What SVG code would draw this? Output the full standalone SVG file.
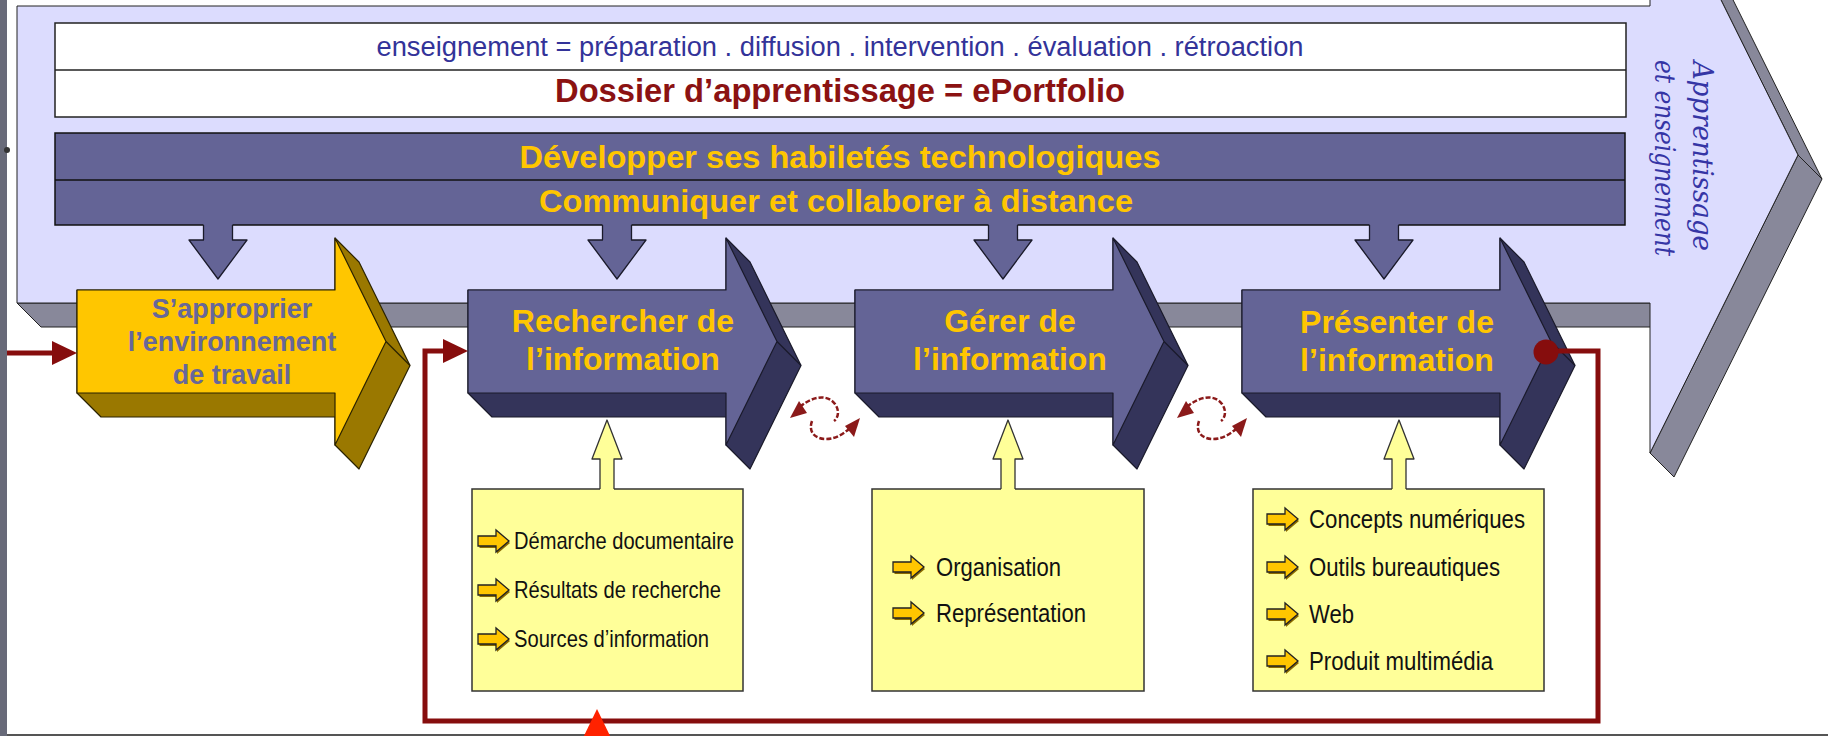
<svg xmlns="http://www.w3.org/2000/svg" xmlns:xlink="http://www.w3.org/1999/xlink" width="1828" height="736" viewBox="0 0 1828 736">
<style>
.lav{fill:#dcdcfe;stroke:#222;stroke-width:1}
.lav3d{fill:#88889a;stroke:#222;stroke-width:1}
.wbox{fill:#fff;stroke:#222;stroke-width:1.5}
.pbar{fill:#646496;stroke:#111;stroke-width:1.5}
.pface{fill:#646496;stroke:#1a1a2a;stroke-width:1.2;stroke-linejoin:round}
.pside{fill:#34345a;stroke:#1a1a2a;stroke-width:1.2;stroke-linejoin:round}
.yface{fill:#ffc600;stroke:#2a2200;stroke-width:1.2;stroke-linejoin:round}
.yside{fill:#9a7800;stroke:#2a2200;stroke-width:1.2;stroke-linejoin:round}
.ibox{fill:#ffff99;stroke:#333;stroke-width:1.5}
.sans{font-family:"Liberation Sans",Arial,sans-serif}
.lbl{font-family:"Liberation Sans",Arial,sans-serif;font-weight:bold;font-size:32px;fill:#ffc600;text-anchor:middle}
.lblg{font-family:"Liberation Sans",Arial,sans-serif;font-weight:bold;font-size:27px;fill:#676799;text-anchor:middle}
.item{font-family:"Liberation Sans Narrow","Liberation Sans",Arial,sans-serif;fill:#111}
.redline{fill:none;stroke:#860d0d;stroke-width:5;stroke-linejoin:miter}
.script{font-family:"DejaVu Serif","Liberation Serif",serif;font-style:italic;font-size:27px;fill:#3535a5;text-anchor:middle}
</style>
<defs>
<marker id="redHead" markerUnits="userSpaceOnUse" markerWidth="26" markerHeight="26" refX="12" refY="12" orient="auto">
<path d="M0,0 L25,12 L0,24 Z" fill="#860d0d"/>
</marker>
<g id="downArrow">
<path d="M-14.5,222 V240 H-29 L0,279 L29,240 H14.5 V222 Z" fill="#646496"/>
<path d="M-14.5,225 V240 H-29 L0,279 L29,240 H14.5 V225" fill="none" stroke="#1a1a2a" stroke-width="1.3" stroke-linejoin="round"/>
</g>
<g id="upArrow">
<path d="M-7,491 V459 H-15 L0,420 L15,459 H7 V491 Z" fill="#ffff99"/>
<path d="M-7,489 V459 H-15 L0,420 L15,459 H7 V489" fill="none" stroke="#333" stroke-width="1.3" stroke-linejoin="round"/>
</g>
<g id="bullet">
<path d="M1.5,-3 H19 V-9 L32,2 L19,13 V7 H1.5 Z" fill="#8a6a00"/>
<path d="M0,-5 H18 V-11 L31,0 L18,11 V5 H0 Z" fill="#ffc600" stroke="#222" stroke-width="1.3" stroke-linejoin="miter"/>
</g>
<g id="swap">
<path d="M800,407 C812,396 828,394 835,404 C840,411 838,418 834,421" fill="none" stroke="#8b1a1a" stroke-width="2.5" stroke-dasharray="5 2"/>
<path d="M812,421 C808,432 815,439 826,439 C836,439 843,434 849,429" fill="none" stroke="#8b1a1a" stroke-width="2.5" stroke-dasharray="5 2"/>
<polygon points="790,418 799,401 807,413" fill="#8b1a1a"/>
<polygon points="860,418 845,426 854,437" fill="#8b1a1a"/>
</g>
</defs>

<rect x="0" y="0" width="1828" height="736" fill="#ffffff"/>
<rect x="0" y="0" width="7" height="736" fill="#686a79"/>
<circle cx="7" cy="150" r="3" fill="#333"/>
<line x1="7" y1="735" x2="1828" y2="735" stroke="#555" stroke-width="2"/>

<g id="frame-arrow">
<polygon class="lav3d" points="17,303 1650,303 1674,327 41,327"/>
<polygon class="lav3d" points="1798,155 1822,179 1674,477 1650,453"/>
<polygon class="lav3d" points="1650,-143 1674,-119 1822,179 1798,155"/>
<polygon class="lav" points="17,6 1650,6 1650,-143 1798,155 1650,453 1650,303 17,303"/>
</g>

<g id="label-apprentissage">
<text class="script" transform="translate(1693,156) rotate(90)" textLength="190" lengthAdjust="spacingAndGlyphs">Apprentissage</text>
<text class="script" transform="translate(1655,158) rotate(90)" textLength="196" lengthAdjust="spacingAndGlyphs">et enseignement</text>
</g>

<g id="header-box">
<rect class="wbox" x="55" y="23" width="1571" height="94"/>
<line x1="55" y1="70" x2="1626" y2="70" stroke="#222" stroke-width="1.5"/>
<text class="sans" x="840" y="56" font-size="27" fill="#333399" text-anchor="middle" textLength="927" lengthAdjust="spacingAndGlyphs">enseignement = préparation . diffusion . intervention . évaluation . rétroaction</text>
<text class="sans" x="840" y="102" font-size="33" font-weight="bold" fill="#8b1212" text-anchor="middle" textLength="570" lengthAdjust="spacingAndGlyphs">Dossier d’apprentissage = ePortfolio</text>
</g>

<g id="skills-bars">
<rect class="pbar" x="55" y="133" width="1570" height="92"/>
<line x1="55" y1="180" x2="1625" y2="180" stroke="#111" stroke-width="1.5"/>
<text class="sans" x="840" y="168" font-size="32" font-weight="bold" fill="#ffc600" text-anchor="middle" textLength="641" lengthAdjust="spacingAndGlyphs">Développer ses habiletés technologiques</text>
<text class="sans" x="836" y="212" font-size="32" font-weight="bold" fill="#ffc600" text-anchor="middle" textLength="594" lengthAdjust="spacingAndGlyphs">Communiquer et collaborer à distance</text>
</g>

<g id="node-approprier">
<polygon class="yside" points="77,290 335,290 335,238 359,262 410,365.5 359,469 335,445 335,417 101,417 77,393"/>
<path class="yside" d="M386,341.5 L410,365.5"/>
<polygon class="yface" points="77,290 335,290 335,238 386,341.5 335,445 335,393 77,393"/>
<text class="lblg" x="232" y="318">S’approprier</text>
<text class="lblg" x="232" y="351">l’environnement</text>
<text class="lblg" x="232" y="384">de travail</text>
</g>

<g id="node-rechercher">
<polygon class="pside" points="468,290 726,290 726,238 750,262 801,365.5 750,469 726,445 726,417 492,417 468,393"/>
<path class="pside" d="M777,341.5 L801,365.5"/>
<polygon class="pface" points="468,290 726,290 726,238 777,341.5 726,445 726,393 468,393"/>
<text class="lbl" x="623" y="332">Rechercher de</text>
<text class="lbl" x="623" y="370">l’information</text>
</g>

<g id="node-gerer">
<polygon class="pside" points="855,290 1113,290 1113,238 1137,262 1188,365.5 1137,469 1113,445 1113,417 879,417 855,393"/>
<path class="pside" d="M1164,341.5 L1188,365.5"/>
<polygon class="pface" points="855,290 1113,290 1113,238 1164,341.5 1113,445 1113,393 855,393"/>
<text class="lbl" x="1010" y="332">Gérer de</text>
<text class="lbl" x="1010" y="370">l’information</text>
</g>

<g id="node-presenter">
<polygon class="pside" points="1242,290 1500,290 1500,238 1524,262 1575,365.5 1524,469 1500,445 1500,417 1266,417 1242,393"/>
<path class="pside" d="M1551,341.5 L1575,365.5"/>
<polygon class="pface" points="1242,290 1500,290 1500,238 1551,341.5 1500,445 1500,393 1242,393"/>
<text class="lbl" x="1397" y="333">Présenter de</text>
<text class="lbl" x="1397" y="371">l’information</text>
</g>

<g id="box-recherche">
<rect class="ibox" x="472" y="489" width="271" height="202"/>
<use xlink:href="#bullet" href="#bullet" x="478" y="541"/>
<use xlink:href="#bullet" href="#bullet" x="478" y="590"/>
<use xlink:href="#bullet" href="#bullet" x="478" y="639"/>
<text class="item" x="514" y="549" font-size="24" textLength="220" lengthAdjust="spacingAndGlyphs">Démarche documentaire</text>
<text class="item" x="514" y="598" font-size="24" textLength="207" lengthAdjust="spacingAndGlyphs">Résultats de recherche</text>
<text class="item" x="514" y="647" font-size="24" textLength="195" lengthAdjust="spacingAndGlyphs">Sources d’information</text>
</g>

<g id="box-gerer">
<rect class="ibox" x="872" y="489" width="272" height="202"/>
<use xlink:href="#bullet" href="#bullet" x="893" y="567"/>
<use xlink:href="#bullet" href="#bullet" x="893" y="613"/>
<text class="item" x="936" y="576" font-size="26" textLength="125" lengthAdjust="spacingAndGlyphs">Organisation</text>
<text class="item" x="936" y="622" font-size="26" textLength="150" lengthAdjust="spacingAndGlyphs">Représentation</text>
</g>

<g id="box-presenter">
<rect class="ibox" x="1253" y="489" width="291" height="202"/>
<use xlink:href="#bullet" href="#bullet" x="1267" y="519"/>
<use xlink:href="#bullet" href="#bullet" x="1267" y="567"/>
<use xlink:href="#bullet" href="#bullet" x="1267" y="614"/>
<use xlink:href="#bullet" href="#bullet" x="1267" y="661"/>
<text class="item" x="1309" y="528" font-size="26" textLength="216" lengthAdjust="spacingAndGlyphs">Concepts numériques</text>
<text class="item" x="1309" y="576" font-size="26" textLength="191" lengthAdjust="spacingAndGlyphs">Outils bureautiques</text>
<text class="item" x="1309" y="623" font-size="26" textLength="45" lengthAdjust="spacingAndGlyphs">Web</text>
<text class="item" x="1309" y="670" font-size="26" textLength="184" lengthAdjust="spacingAndGlyphs">Produit multimédia</text>
</g>

<g id="connectors">
<use xlink:href="#downArrow" href="#downArrow" x="218"/>
<use xlink:href="#downArrow" href="#downArrow" x="617"/>
<use xlink:href="#downArrow" href="#downArrow" x="1003"/>
<use xlink:href="#downArrow" href="#downArrow" x="1384"/>
<path class="redline" d="M7,353 H64" stroke-width="6" marker-end="url(#redHead)"/>
<path class="redline" d="M1546,351 H1598 V721 H425 V351 H455" marker-end="url(#redHead)"/>
<circle cx="1546" cy="352" r="12.5" fill="#860d0d"/>
<use xlink:href="#swap" href="#swap"/>
<use xlink:href="#swap" href="#swap" x="387"/>
<use xlink:href="#upArrow" href="#upArrow" x="607"/>
<use xlink:href="#upArrow" href="#upArrow" x="1008"/>
<use xlink:href="#upArrow" href="#upArrow" x="1399"/>
<polygon points="597,709 581,742 613,742" fill="#ff2200"/>
</g>
</svg>
